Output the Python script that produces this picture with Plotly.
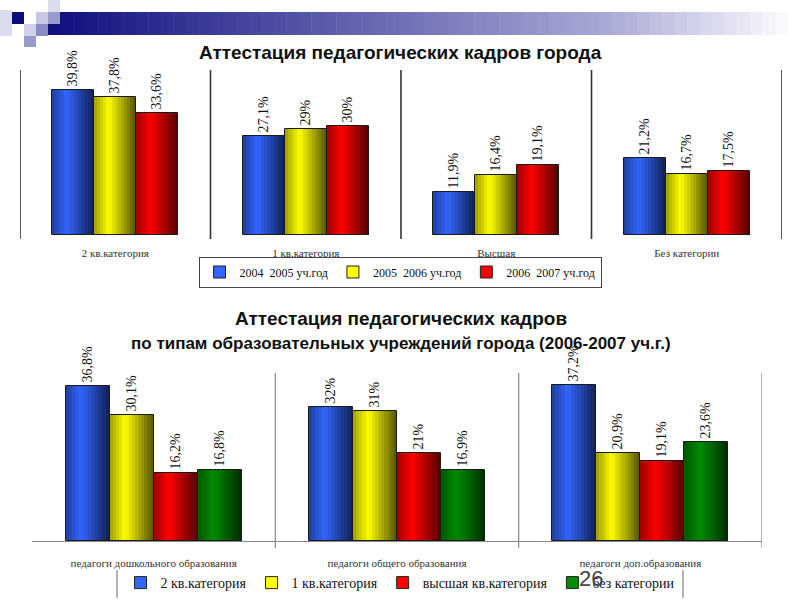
import plotly.graph_objects as go

# ---------------- data ----------------
top_categories = ["2 кв.категория", "1 кв.категория", "Высшая", "Без категории"]
top_series_names = ["2004  2005 уч.год", "2005  2006 уч.год", "2006  2007 уч.год"]
top_2004_2005 = [39.8, 27.1, 11.9, 21.2]
top_2005_2006 = [37.8, 29.0, 16.4, 16.7]
top_2006_2007 = [33.6, 30.0, 19.1, 17.5]
top_labels_2004_2005 = ["39,8%", "27,1%", "11,9%", "21,2%"]
top_labels_2005_2006 = ["37,8%", "29%", "16,4%", "16,7%"]
top_labels_2006_2007 = ["33,6%", "30%", "19,1%", "17,5%"]

bot_categories = ["педагоги дошкольного образования", "педагоги общего образования",
                  "педагоги доп.образования"]
bot_series_names = ["2 кв.категория", "1 кв.категория", "высшая кв.категория", "без категории"]
bot_kv2 = [36.8, 32.0, 37.2]
bot_kv1 = [30.1, 31.0, 20.9]
bot_high = [16.2, 21.0, 19.1]
bot_none = [16.8, 16.9, 23.6]
bot_labels_kv2 = ["36,8%", "32%", "37,2%"]
bot_labels_kv1 = ["30,1%", "31%", "20,9%"]
bot_labels_high = ["16,2%", "21%", "19,1%"]
bot_labels_none = ["16,8%", "16,9%", "23,6%"]

# ---------------- style ----------------
BLUE = (51, 102, 255)
YELLOW = (255, 255, 0)
RED = (255, 0, 0)
GREEN = (0, 140, 0)
SERIF = "Liberation Serif, Times New Roman, serif"
SANS = "Liberation Sans, Arial, sans-serif"
N_STRIPS = 14


def profile(t):
    # horizontal cylinder-like shading across the bar
    if t < 0.35:
        return 0.62 + (1.0 - 0.62) * (t / 0.35)
    return 1.0 - (1.0 - 0.32) * ((t - 0.35) / 0.65)


def shade(base, t):
    f = profile(t)
    return "rgb(%d,%d,%d)" % tuple(int(c * f) for c in base)


def hexc(base):
    return "rgb(%d,%d,%d)" % base


fig = go.Figure()


def add_group(values, labels, name, base, idx, nser, width, xa, ya, legend):
    offset = (idx - (nser - 1) / 2) * width
    centers = [i + offset for i in range(len(values))]
    sw = width / N_STRIPS
    for k in range(N_STRIPS):
        t = (k + 0.5) / N_STRIPS
        fig.add_trace(go.Bar(
            x=[c - width / 2 + (k + 0.5) * sw for c in centers], y=values,
            width=sw, marker=dict(color=shade(base, t), line=dict(width=0)),
            showlegend=False, hoverinfo="skip", xaxis=xa, yaxis=ya))
    fig.add_trace(go.Bar(
        x=centers, y=values, width=width, name=name,
        marker=dict(color="rgba(0,0,0,0)", line=dict(color="#1a1a1a", width=1)),
        text=labels, textposition="outside", textangle=-90,
        textfont=dict(family=SERIF, size=14, color="#111"),
        cliponaxis=False, showlegend=False, xaxis=xa, yaxis=ya))
    # legend swatch
    fig.add_trace(go.Bar(
        x=[None], y=[None], name=name,
        marker=dict(color=hexc(base), line=dict(color="#222", width=1)),
        showlegend=True, legend=legend, xaxis=xa, yaxis=ya))


top_vals = [top_2004_2005, top_2005_2006, top_2006_2007]
top_labs = [top_labels_2004_2005, top_labels_2005_2006, top_labels_2006_2007]
top_cols = [BLUE, YELLOW, RED]
for i in range(3):
    add_group(top_vals[i], top_labs[i], top_series_names[i], top_cols[i], i, 3, 0.22,
              "x", "y", "legend")

bot_vals = [bot_kv2, bot_kv1, bot_high, bot_none]
bot_labs = [bot_labels_kv2, bot_labels_kv1, bot_labels_high, bot_labels_none]
bot_cols = [BLUE, YELLOW, RED, GREEN]
for i in range(4):
    add_group(bot_vals[i], bot_labs[i], bot_series_names[i], bot_cols[i], i, 4, 0.181,
              "x2", "y2", "legend2")

shapes = []
# top chart separators
for b in [-0.5, 0.5, 1.5, 2.5, 3.5]:
    shapes.append(dict(type="line", xref="x", yref="paper", x0=b, x1=b,
                       y0=1 - 239 / 600, y1=1 - 70 / 600,
                       line=dict(color="#333", width=1.6)))
# bottom chart separators (with tick extension)
for b in [0.5, 1.5, 2.5]:
    shapes.append(dict(type="line", xref="x2", yref="paper", x0=b, x1=b,
                       y0=1 - 548 / 600, y1=1 - 373 / 600,
                       line=dict(color="#888", width=1.2)))
# bottom legend side bars
for px in [117, 683]:
    shapes.append(dict(type="line", xref="paper", yref="paper", x0=px / 800, x1=px / 800,
                       y0=1 - 598 / 600, y1=1 - 570 / 600,
                       line=dict(color="#666", width=1)))

# slide decoration: gradient header bar
n_dec = 60
x_start, x_end = 48, 800
for k in range(n_dec):
    t = k / (n_dec - 1)
    a = x_start + (x_end - x_start) * k / n_dec
    b = x_start + (x_end - x_start) * (k + 1) / n_dec + 0.5
    if t < 0.75:
        u = t / 0.75
        c0, c1 = (16, 16, 128), (170, 170, 215)
    else:
        u = (t - 0.75) / 0.25
        c0, c1 = (170, 170, 215), (255, 255, 255)
    col = tuple(int(c0[j] + (c1[j] - c0[j]) * u) for j in range(3))
    shapes.append(dict(type="rect", xref="paper", yref="paper", x0=a / 800, x1=b / 800,
                       y0=1 - 35 / 600, y1=1 - 12 / 600, fillcolor="rgb(%d,%d,%d)" % col,
                       line=dict(width=0), layer="below"))
squares = [
    (0, 10, 12, 36, "#dcdcef"),
    (12, 12, 24, 24, "#0c0c7a"),
    (36, 12, 48, 24, "#c8c8e6"),
    (48, 12, 60, 24, "#9a9acc"),
    (48, 0, 60, 12, "#dcdcef"),
    (24, 24, 36, 36, "#d0d0ea"),
    (36, 24, 48, 36, "#8a8ac4"),
    (24, 36, 36, 47, "#9a9acc"),
]
for x0, y0, x1, y1, c in squares:
    shapes.append(dict(type="rect", xref="paper", yref="paper", x0=x0 / 800, x1=x1 / 800,
                       y0=1 - y1 / 600, y1=1 - y0 / 600, fillcolor=c,
                       line=dict(width=0)))

annotations = [
    dict(text="<b>Аттестация педагогических кадров города</b>", x=400 / 800, y=1 - 52 / 600,
         xref="paper", yref="paper", showarrow=False, xanchor="center", yanchor="middle",
         font=dict(family=SANS, size=19, color="#111")),
    dict(text="<b>Аттестация педагогических кадров</b>", x=401 / 800, y=1 - 318 / 600,
         xref="paper", yref="paper", showarrow=False, xanchor="center", yanchor="middle",
         font=dict(family=SANS, size=19, color="#111")),
    dict(text="<b>по типам образовательных учреждений города (2006-2007 уч.г.)</b>",
         x=401 / 800, y=1 - 343 / 600, xref="paper", yref="paper", showarrow=False,
         xanchor="center", yanchor="middle",
         font=dict(family=SANS, size=17, color="#111")),
    dict(text="26", x=591 / 800, y=1 - 578 / 600, xref="paper", yref="paper",
         showarrow=False, xanchor="center", yanchor="middle",
         font=dict(family=SANS, size=22, color="#444")),
]

fig.update_layout(
    width=800, height=600,
    margin=dict(l=0, r=0, t=0, b=0),
    paper_bgcolor="white", plot_bgcolor="rgba(0,0,0,0)",
    barmode="overlay", bargap=0,
    xaxis=dict(domain=[20 / 800, 782 / 800], range=[-0.5, 3.5],
               tickvals=list(range(len(top_categories))), ticktext=top_categories,
               showgrid=False, zeroline=False, showline=False, ticks="",
               ticklabelstandoff=10,
               tickfont=dict(family=SERIF, size=11, color="#333")),
    yaxis=dict(domain=[1 - 235 / 600, 1 - 70 / 600], range=[0, 45.3], visible=False),
    xaxis2=dict(domain=[32 / 800, 762 / 800], range=[-0.5, 2.5], anchor="y2",
                tickvals=list(range(len(bot_categories))), ticktext=bot_categories,
                showgrid=False, zeroline=False, showline=True, linecolor="#888",
                linewidth=1, ticks="", ticklabelstandoff=12,
                tickfont=dict(family=SERIF, size=11, color="#333")),
    yaxis2=dict(domain=[1 - 541 / 600, 1 - 373 / 600], range=[0, 40], visible=False,
                anchor="x2"),
    legend=dict(orientation="h", x=0.5, xanchor="center", y=1 - 272 / 600,
                yanchor="middle", bordercolor="#444", borderwidth=1,
                bgcolor="white", font=dict(family=SERIF, size=12, color="#111"),
                itemwidth=30, tracegroupgap=0),
    legend2=dict(orientation="h", x=0.5, xanchor="center", y=1 - 583 / 600,
                 yanchor="middle", bgcolor="rgba(0,0,0,0)",
                 font=dict(family=SERIF, size=14, color="#111"),
                 itemwidth=30),
    shapes=shapes,
    annotations=annotations,
    showlegend=True,
)

fig.write_html("out.html", config={"displayModeBar": False},
               post_script="document.body.style.margin='0';")
